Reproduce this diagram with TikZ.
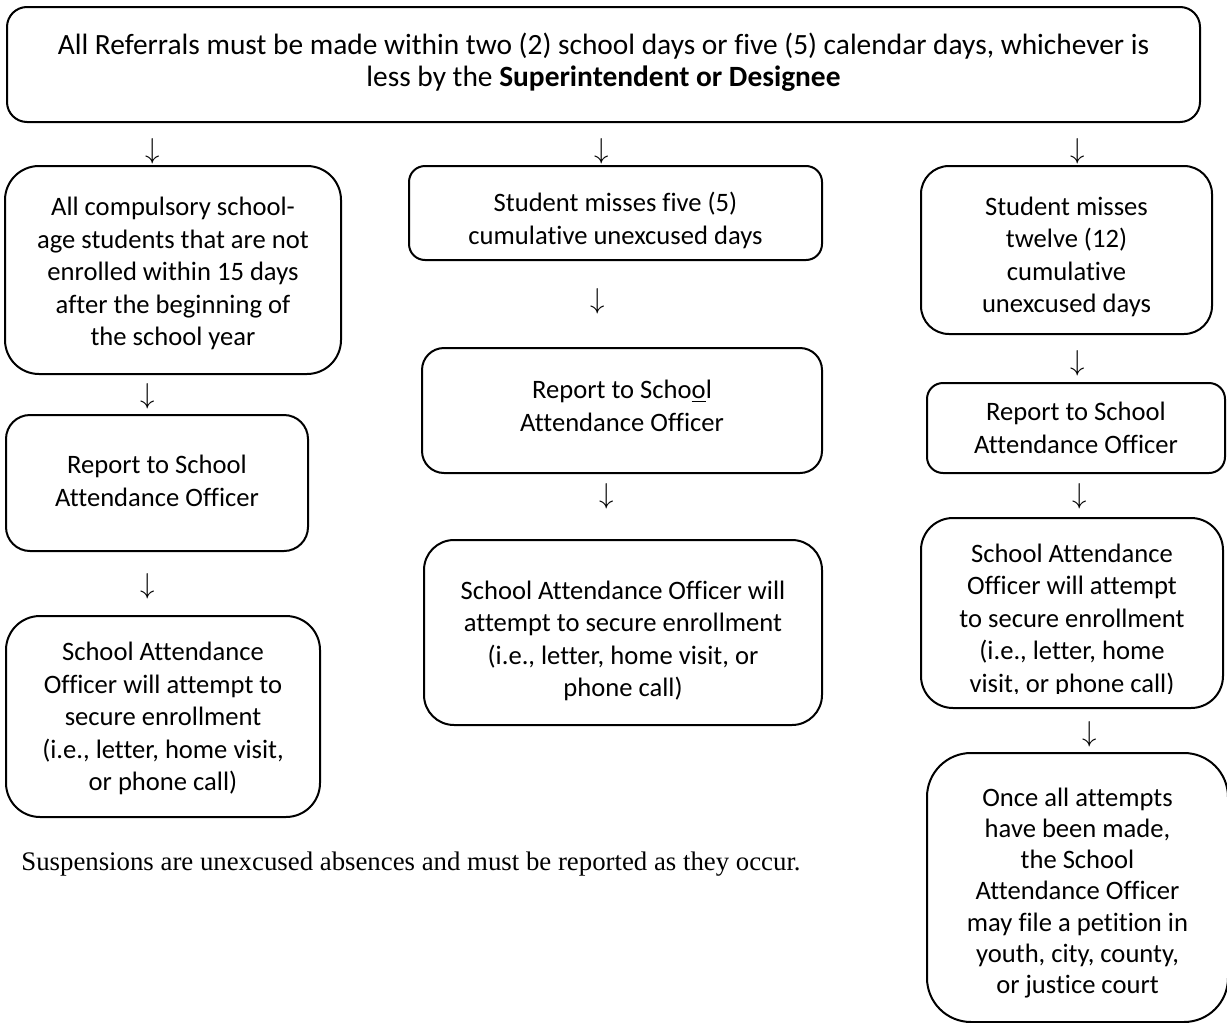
\documentclass[tikz,border=0pt]{standalone}
\usepackage{fontspec}
\setmainfont{Carlito}[Ligatures=CommonOff]
\newfontfamily\notefont{Liberation Serif}
\tikzset{
  every picture/.style={line join=round, line cap=round},
  flowbox/.style={draw, line width=1pt, rounded corners=#1, inner sep=0pt},
  flowbox/.default=12pt,
  flowtext/.style={align=center, inner sep=0pt, font=\fontsize{13.3}{16.25}\selectfont},
  downarrow/.style={inner sep=0pt, font=\fontsize{13.3}{16}\selectfont},
}

\begin{document}
\begin{tikzpicture}[x=0.5pt,y=-0.5pt]
\fill[white] (0,0) rectangle (1227,1023);
\useasboundingbox (0,0) rectangle (1227,1023);
% top box
\node[flowbox=10pt, minimum width=596.5pt, minimum height=57.5pt] (referral) at (603.5,64.5) {};
\node[flowtext, font=\fontsize{14.7}{16}\selectfont] (referralText) at (603.5,62.5)
  {All Referrals must be made within two (2) school days or five (5) calendar days, whichever is\\
   less by the \textbf{Superintendent or Designee}};
% left column
\node[flowbox=17pt, minimum width=168pt, minimum height=104pt] (enrol) at (173,270) {};
\node[flowtext] (enrolText) at (173,273.5)
  {All compulsory school-\\age students that are not\\enrolled within 15 days\\after the beginning of\\the school year};
\node[flowbox=12pt, minimum width=151pt, minimum height=68pt] (reportL) at (157,483) {};
\node[flowtext] (reportLText) at (157,481) {Report to School\\Attendance Officer};
\node[flowbox=17pt, minimum width=157pt, minimum height=100.5pt] (secureL) at (163,716.5) {};
\node[flowtext] (secureLText) at (163,718.5)
  {School Attendance\\Officer will attempt to\\secure enrollment\\(i.e., letter, home visit,\\or phone call)};
% middle column
\node[flowbox=8pt, minimum width=206.5pt, minimum height=47pt] (five) at (615.5,213) {};
\node[flowtext] (fiveText) at (615.5,220.5) {Student misses five (5)\\cumulative unexcused days};
\node[flowbox=11pt, minimum width=200pt, minimum height=62.5pt] (reportM) at (622,410.5) {};
\node[flowtext] (reportMText) at (622,406) {Report to Scho\underline{o}l\\Attendance Officer};
\node[flowbox=15pt, minimum width=199pt, minimum height=92.5pt] (secureM) at (623,632.5) {};
\node[flowtext] (secureMText) at (623,641)
  {School Attendance Officer will\\attempt to secure enrollment\\(i.e., letter, home visit, or\\phone call)};
% right column
\node[flowbox=14pt, minimum width=145.5pt, minimum height=84pt] (twelve) at (1066.5,250) {};
\node[flowtext] (twelveText) at (1066.5,257) {Student misses\\twelve (12)\\cumulative\\unexcused days};
\node[flowbox=8pt, minimum width=149pt, minimum height=45pt] (reportR) at (1076,428) {};
\node[flowtext] (reportRText) at (1076,428) {Report to School\\Attendance Officer};
\node[flowbox=16pt, minimum width=151pt, minimum height=95pt] (secureR) at (1072,613) {};
\begin{scope}
\clip (secureR.north west) rectangle ([yshift=8pt]secureR.south east);
\node[flowtext] (secureRText) at (1072,620)
  {School Attendance\\Officer will attempt\\to secure enrollment\\(i.e., letter, home\\visit, or phone call)};
\end{scope}
\node[flowbox=22pt, minimum width=150.5pt, minimum height=134.5pt] (petition) at (1077.5,887.5) {};
\node[flowtext, font=\fontsize{13.3}{15.65}\selectfont] (petitionText) at (1077.5,893)
  {Once all attempts\\have been made,\\the School\\Attendance Officer\\may file a petition in\\youth, city, county,\\or justice court};
% arrows
\node[downarrow] (a1) at (153,151) {$\downarrow$};
\node[downarrow] (a2) at (602,151) {$\downarrow$};
\node[downarrow] (a3) at (1078,151) {$\downarrow$};
\node[downarrow] (a4) at (148,396) {$\downarrow$};
\node[downarrow] (a5) at (148,586) {$\downarrow$};
\node[downarrow] (a6) at (598,301) {$\downarrow$};
\node[downarrow] (a7) at (607,496) {$\downarrow$};
\node[downarrow] (a8) at (1078,363) {$\downarrow$};
\node[downarrow] (a9) at (1080,496) {$\downarrow$};
\node[downarrow] (a10) at (1090,734) {$\downarrow$};
% note
\node[anchor=west, inner sep=0pt, font=\notefont\fontsize{13.4}{15}\selectfont] (note) at (21,864)
  {Suspensions are unexcused absences and must be reported as they occur.};
\end{tikzpicture}
\end{document}
